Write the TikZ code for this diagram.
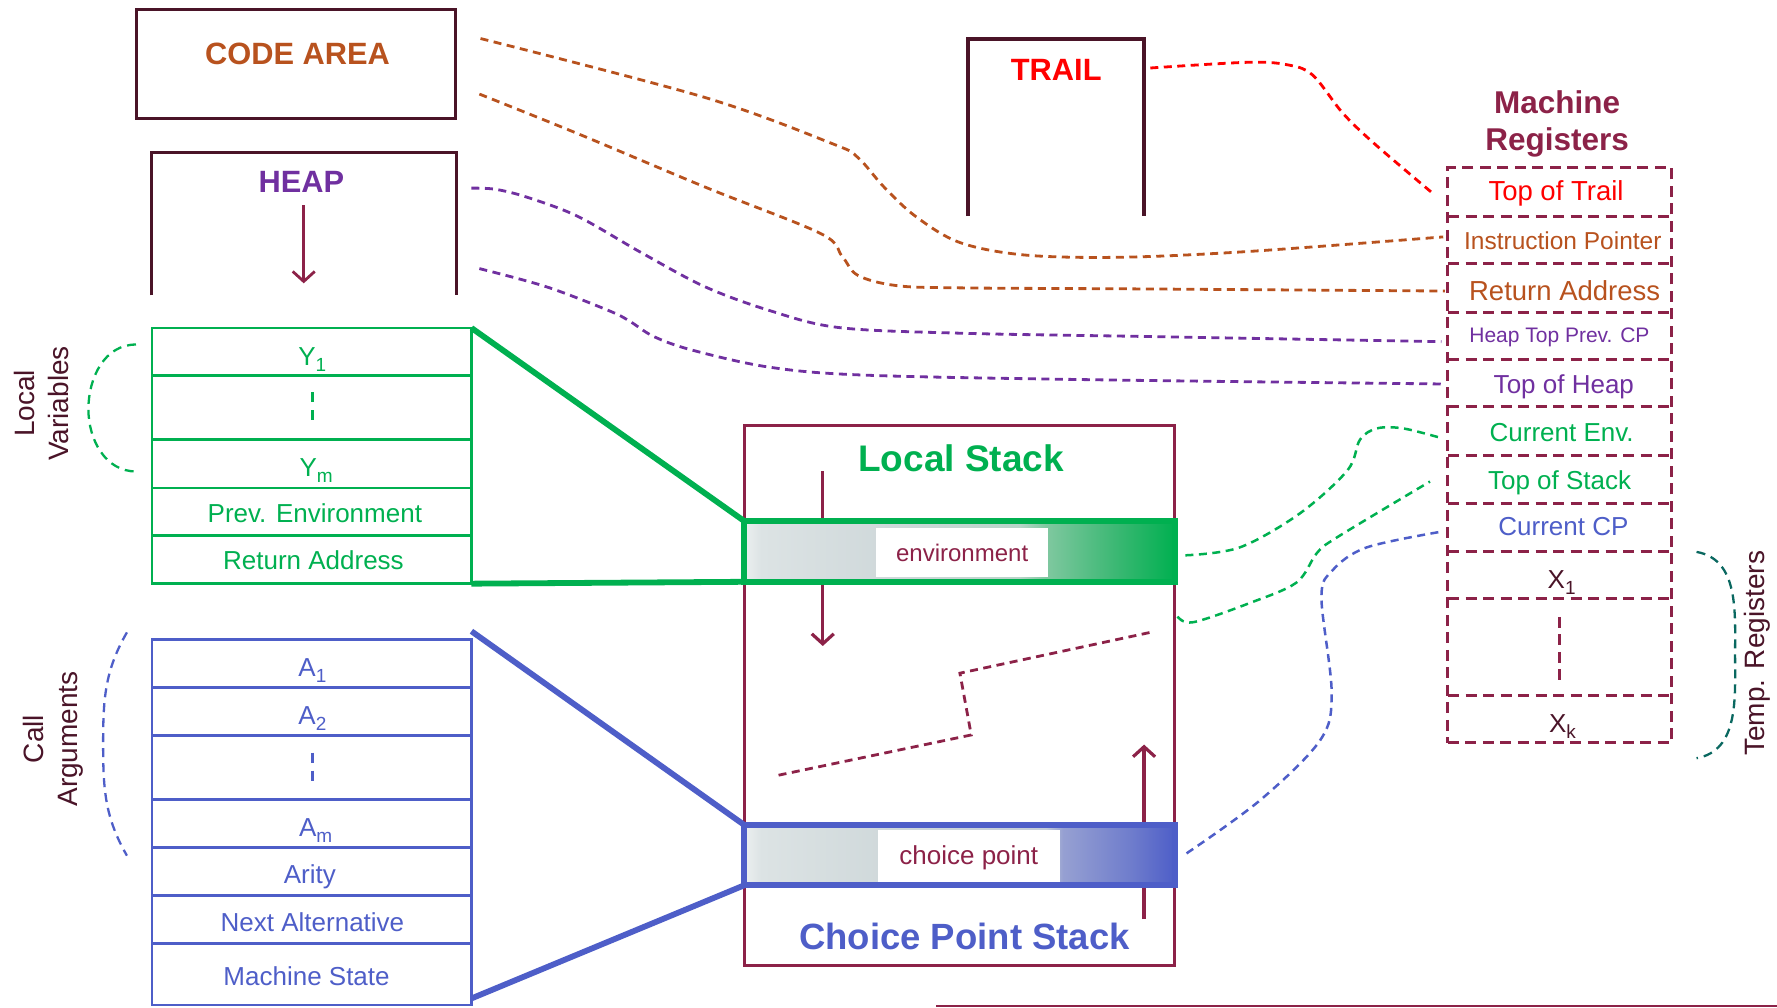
\documentclass[tikz,border=0pt]{standalone}
\usepackage{fontspec}
\setmainfont{Liberation Sans}
\usetikzlibrary{arrows.meta}

% palette
\definecolor{frameDark}{RGB}{74,20,40}
\definecolor{wamMaroon}{RGB}{140,34,72}
\definecolor{codeBrown}{RGB}{184,82,30}
\definecolor{heapPurple}{RGB}{112,48,160}
\definecolor{envGreen}{RGB}{0,176,80}
\definecolor{cpBlue}{RGB}{78,94,200}
\definecolor{trailRed}{RGB}{255,0,0}
\definecolor{tempTeal}{RGB}{10,104,96}
\definecolor{barEdge}{RGB}{236,240,240}
\definecolor{barGreyA}{RGB}{220,227,228}
\definecolor{barGreyB}{RGB}{207,216,218}
\definecolor{envMidA}{RGB}{184,212,200}
\definecolor{envMidB}{RGB}{128,200,160}
\definecolor{envMidC}{RGB}{60,184,116}
\definecolor{cpMidA}{RGB}{196,204,216}
\definecolor{cpMidB}{RGB}{150,160,210}
\definecolor{cpMidC}{RGB}{110,124,204}

% frame bars: grey on the left, coloured towards the right
\pgfdeclarehorizontalshading{envshade}{100bp}{%
  color(0bp)=(barEdge); color(25bp)=(barEdge); color(27bp)=(barGreyA);
  color(42bp)=(barGreyB); color(57bp)=(envMidA); color(60bp)=(envMidB);
  color(68bp)=(envMidC); color(75bp)=(envGreen); color(100bp)=(envGreen)}
\pgfdeclarehorizontalshading{cpshade}{100bp}{%
  color(0bp)=(barEdge); color(25bp)=(barEdge); color(27bp)=(barGreyA);
  color(42bp)=(barGreyB); color(60bp)=(cpMidA); color(62bp)=(cpMidB);
  color(70bp)=(cpMidC); color(75bp)=(cpBlue); color(100bp)=(cpBlue)}

\newcommand\setfs[1]{\fontsize{#1}{#1}\selectfont}
\newcommand\regidx[1]{\raisebox{-6pt}{\fontsize{19}{19}\selectfont #1}}

\begin{document}
\begin{tikzpicture}[x=1.13329pt, y=-1.13329pt,
  every node/.style={inner sep=0pt, outer sep=0pt},
  txt/.style 2 args={font=\setfs{#1}, text height=#2pt, text depth=0pt},
  btxt/.style 2 args={font=\setfs{#1}\bfseries, text height=#2pt, text depth=0pt},
  areabox/.style={draw=frameDark, line width=3.3pt},
  lvcell/.style={draw=envGreen, line width=2.7pt},
  cacell/.style={draw=cpBlue, line width=2.7pt},
  growarrow/.style={draw=wamMaroon, line width=3.2pt, -{Straight Barb[length=10pt,width=22pt]}},
  link/.style={line width=2.8pt, dash pattern=on 8pt off 5.5pt},
  brace/.style={line width=2.3pt, dash pattern=on 9pt off 6pt},
  regdash/.style={draw=wamMaroon, line width=3pt, dash pattern=on 11pt off 6.5pt},
  zoomline/.style={line width=5.8pt},
  sidelabel/.style={font={\fontsize{28}{34}\selectfont}, text=frameDark, rotate=90, align=center},
]
\useasboundingbox (0,0) rectangle (1568,889);

% ---------- code area ----------
\node[areabox, minimum width=319pt, minimum height=109pt] (code) at (261.15,56.5) {};
\node[btxt={30.8}{22}, text=codeBrown] (codeT) at (262.5,47.3) {CODE AREA};

% ---------- heap ----------
\coordinate (heapBL) at (133.7,260.7);
\coordinate (heapTL) at (133.7,134.4);
\coordinate (heapTR) at (402.5,134.4);
\coordinate (heapBR) at (402.5,260.7);
\draw[areabox] (heapBL) -- (heapTL) -- (heapTR) -- (heapBR);
\node[btxt={30.8}{22}, text=heapPurple] (heapT) at (266,160.4) {HEAP};
\coordinate (ha0) at (268,181);
\coordinate (ha1) at (268,250);
\draw[growarrow, line width=2.8pt] (ha0) -- (ha1);

% ---------- trail ----------
\coordinate (trBL) at (854.1,190.6);
\coordinate (trTL) at (854.1,34.4);
\coordinate (trTR) at (1009.4,34.4);
\coordinate (trBR) at (1009.4,190.6);
\draw[areabox] (trBL) -- (trTL) -- (trTR) -- (trBR);
\node[btxt={30.8}{22}, text=trailRed] (trailT) at (932,61.5) {TRAIL};

% ---------- environment frame ----------
\node[lvcell, minimum width=319.6pt, minimum height=255.7pt] (lv) at (275,402.2) {};
\foreach \yy in {331.6,387.6,430.6,472.8}
  \draw[lvcell] (134,\yy) -- (416,\yy);
\draw[envGreen, line width=2.5pt, dash pattern=on 10pt off 8pt] (275.6,346) -- (275.6,371.5);
\node[txt={26}{18.6}, text=envGreen] (lvY1) at (275.5,314) {Y\regidx{1}};
\node[txt={26}{18.6}, text=envGreen] (lvYm) at (279,412) {Y\regidx{m}};
\node[txt={26}{18.6}, text=envGreen] (lvPE) at (277.8,452.6) {Prev. Environment};
\node[txt={26}{18.6}, text=envGreen] (lvRA) at (276.6,494.7) {Return Address};
\node[sidelabel] (lvLab) at (37,356) {Local\\Variables};
\draw[brace, envGreen] (120,304) to[out=180,in=90] (78,361) to[out=-90,in=180] (120,416);

% ---------- choice point frame ----------
\node[cacell, minimum width=319.6pt, minimum height=365.7pt] (ca) at (275,725.45) {};
\foreach \yy in {606.8,649.1,705.3,748,790.3,832.4}
  \draw[cacell] (134,\yy) -- (416,\yy);
\draw[cpBlue, line width=2.5pt, dash pattern=on 10pt off 8pt] (275.6,664.1) -- (275.6,689.7);
\node[txt={26}{18.6}, text=cpBlue] (caA1) at (275.7,588.6) {A\regidx{1}};
\node[txt={26}{18.6}, text=cpBlue] (caA2) at (275.7,631) {A\regidx{2}};
\node[txt={26}{18.6}, text=cpBlue] (caAm) at (278.6,729.8) {A\regidx{m}};
\node[txt={26}{18.6}, text=cpBlue] (caAr) at (273.4,771.2) {Arity};
\node[txt={26}{18.6}, text=cpBlue] (caNA) at (275.7,813.7) {Next Alternative};
\node[txt={26}{18.6}, text=cpBlue] (caMS) at (270.5,861) {Machine State};
\node[sidelabel] (caLab) at (47.3,652) {Call\\Arguments};
\draw[brace, cpBlue] (112,558) to[out=240,in=90] (91,656) to[out=-90,in=120] (112,755);

% ---------- local / choice point stack ----------
\node[draw=wamMaroon, line width=3.2pt, minimum width=429.9pt, minimum height=540pt] (stack) at (846.6,613.7) {};
\node[btxt={37}{26.5}, text=envGreen] (lsT) at (848,404) {Local Stack};
\node[btxt={36.5}{26.1}, text=cpBlue] (cpsT) at (851,826) {Choice Point Stack};
\coordinate (ls0) at (726,416);
\coordinate (ls1) at (726,570);
\draw[growarrow] (ls0) -- (ls1);
\coordinate (cps0) at (1009.5,811);
\coordinate (cps1) at (1009.5,657);
\draw[growarrow] (cps0) -- (cps1);
\draw[wamMaroon, link] (687,684) -- (857,648.5) -- (847,594) -- (1015,558);

\node[draw=envGreen, line width=6pt, shade, shading=envshade,
      minimum width=431pt, minimum height=60.9pt] (env) at (846.65,486.5) {};
\node[fill=white, minimum width=172.3pt, minimum height=48.7pt, txt={24}{17.2}, text=wamMaroon]
  (envT) at (849,487.5) {environment};
\node[draw=cpBlue, line width=6pt, shade, shading=cpshade,
      minimum width=431pt, minimum height=60.6pt] (cp) at (846.65,754.5) {};
\node[fill=white, minimum width=182.4pt, minimum height=52pt, txt={26}{18.6}, text=wamMaroon]
  (cpT) at (854.85,755) {choice point};

% frames drawn out of the stack
\coordinate (caTop) at (416,557);
\coordinate (caBot) at (416,881);
\draw[zoomline, envGreen] (lv.north east) -- (env.north west);
\draw[zoomline, envGreen] (lv.south east) -- (env.south west);
\draw[zoomline, cpBlue] (caTop) -- (cp.north west);
\draw[zoomline, cpBlue] (caBot) -- (cp.south west);

% ---------- machine registers ----------
\node[btxt={31.5}{22.6}, text=wamMaroon] (mrA) at (1374,90.4) {Machine};
\node[btxt={31.5}{22.6}, text=wamMaroon] (mrB) at (1374,122.7) {Registers};
\node[regdash, minimum width=224pt, minimum height=575pt] (regs) at (1376.5,401.9) {};
\foreach \yy in {190.6,232.2,275.3,316.8,359,402.1,444.7,487,528.5,614}
  \draw[regdash] (1277.7,\yy) -- (1475.3,\yy);
\draw[regdash] (1376.5,544.4) -- (1376.5,600);

\node[txt={27.5}{19.7}, text=trailRed] (rTT) at (1373,168.6) {Top of Trail};
\node[txt={24.5}{17.5}, text=codeBrown] (rIP) at (1379,212.2) {Instruction Pointer};
\node[txt={27.5}{19.7}, text=codeBrown] (rRA) at (1380.6,256.8) {Return Address};
\node[txt={21}{15}, text=heapPurple] (rHTP) at (1376,296) {Heap Top Prev. CP};
\node[txt={26}{18.6}, text=heapPurple] (rTH) at (1379.9,338.8) {Top of Heap};
\node[txt={26}{18.6}, text=envGreen] (rCE) at (1378,381.6) {Current Env.};
\node[txt={26}{18.6}, text=envGreen] (rTS) at (1376.2,424) {Top of Stack};
\node[txt={26}{18.6}, text=cpBlue] (rCP) at (1379.5,464.7) {Current CP};
\node[txt={26}{18.6}, text=frameDark] (rX1) at (1378,511) {X\regidx{1}};
\node[txt={26}{18.6}, text=frameDark] (rXk) at (1378.7,637.8) {X\regidx{k}};

\node[sidelabel] (tmpLab) at (1551,576.4) {Temp. Registers};
\draw[brace, tempTeal] (1497,487) to[out=-10,in=90] (1531,578) to[out=-90,in=10] (1497,669);

% ---------- register links ----------
\path (regs.west |- rTT) coordinate (eTT)
      (regs.west |- rIP) coordinate (eIP)
      (regs.west |- rRA) coordinate (eRA)
      (regs.west |- rHTP) coordinate (eHTP)
      (regs.west |- rTH) coordinate (eTH)
      (regs.west |- rCE) coordinate (eCE)
      (regs.west |- rTS) coordinate (eTS)
      (regs.west |- rCP) coordinate (eCP);

\coordinate (trail0) at (1015,60);
\coordinate (ip0) at (424,34);
\coordinate (ra0) at (423,83);
\coordinate (htp0) at (416,166);
\coordinate (th0) at (423,237);
\coordinate (ce0) at (1046,490);
\coordinate (ts0) at (1039,544);
\coordinate (ccp0) at (1047,753);

\draw[link, trailRed] plot[smooth, tension=0.55] coordinates
  {(trail0) (1100,55) (1135,57) (1158,66) (1185,100) (1213,127) ([shift={(-13.3pt,-3.9pt)}]eTT)};
\draw[link, codeBrown] plot[smooth, tension=0.55] coordinates
  {(ip0) (622,86) (735,127) (757,139) (780,165) (808,191) (847,214) (904,225) (988,227) (1100,222)
   ([shift={(-4.8pt,3.6pt)}]eIP)};
\draw[link, codeBrown] plot[smooth, tension=0.55] coordinates
  {(ra0) (510,118) (622,165) (724,206) (743,226) (757,243) (791,252) (847,254) (1016,255)
   ([shift={(-3pt,0pt)}]eRA)};
\draw[link, heapPurple] plot[smooth, tension=0.55] coordinates
  {(htp0) (437,167) (465,174) (510,191) (566,223) (622,253) (679,274) (740,289) (847,294) (1016,297)
   ([shift={(-6.5pt,-6.2pt)}]eHTP)};
\draw[link, heapPurple] plot[smooth, tension=0.55] coordinates
  {(th0) (482,253) (537,274) (555,283) (577,297) (611,309) (679,324) (763,331) (960,335)
   ([shift={(-6.5pt,0pt)}]eTH)};
\draw[link, envGreen, line width=2.5pt] plot[smooth, tension=0.55] coordinates
  {(ce0) (1094,483) (1147,453) (1189,415) (1200,388) (1215,378) (1238,378)
   ([shift={(-8pt,-5.2pt)}]eCE)};
\draw[link, envGreen, line width=2.5pt] plot[smooth, tension=0.55] coordinates
  {(ts0) (1053,549) (1103,532) (1144,514) (1162,488) (1180,474) ([shift={(-18pt,-1pt)}]eTS)};
\draw[link, cpBlue, line width=2.5pt] plot[smooth, tension=0.55] coordinates
  {(ccp0) (1112,706) (1165,653) (1175,611) (1166,527) (1176,503) (1206,483)
   ([shift={(-6.5pt,-5pt)}]eCP)};

% ---------- base rule ----------
\coordinate (baseL) at (826,887.6);
\coordinate (baseR) at (1568,887.6);
\draw[wamMaroon, line width=2.5pt] (baseL) -- (baseR);
\end{tikzpicture}
\end{document}
